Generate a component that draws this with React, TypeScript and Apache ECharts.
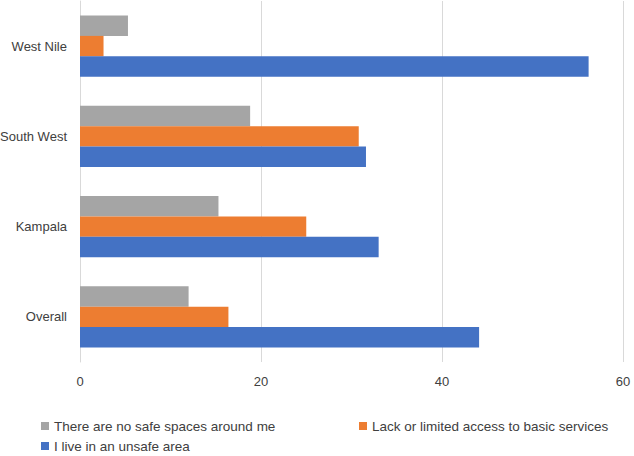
import React, { useEffect, useRef } from "react";
import * as echarts from "echarts";

const categories = ["Overall", "Kampala", "South West", "West Nile"];
const noSafeSpaces = [12.0, 15.3, 18.8, 5.3];
const lackAccess = [16.4, 25.0, 30.8, 2.6];
const unsafeArea = [44.1, 33.0, 31.6, 56.2];
const seriesNames = [
  "There are no safe spaces around me",
  "Lack or limited access to basic services",
  "I live in an unsafe area",
];
const xTicks = { min: 0, max: 60, interval: 20 };

const FONT = "Liberation Sans";
const TEXT = "#404040";

export default function App() {
  const ref = useRef<HTMLDivElement>(null);
  useEffect(() => {
    if (!ref.current) return;
    const chart = echarts.init(ref.current, null, { renderer: "svg" });
    const legendText = { fontFamily: FONT, fontSize: 13.5, color: TEXT };
    const legendBase = {
      orient: "horizontal",
      padding: 0,
      itemWidth: 8,
      itemHeight: 8,
      itemGap: 4,
      icon: "rect",
      textStyle: legendText,
      selectedMode: false,
    };
    chart.setOption({
      animation: false,
      backgroundColor: "#ffffff",
      textStyle: { fontFamily: FONT },
      grid: {
        left: 80,
        right: 11,
        top: 1,
        height: 361,
        containLabel: false,
        outerBoundsMode: "none",
      },
      legend: [
        { ...legendBase, data: [seriesNames[0]], left: 41, top: 419 },
        { ...legendBase, data: [seriesNames[1]], left: 359, top: 419 },
        { ...legendBase, data: [seriesNames[2]], left: 41, top: 439 },
      ],
      xAxis: {
        type: "value",
        min: xTicks.min,
        max: xTicks.max,
        interval: xTicks.interval,
        axisLine: { show: false },
        axisTick: { show: false },
        axisLabel: { fontFamily: FONT, fontSize: 13, color: TEXT, margin: 13 },
        splitLine: { show: true, lineStyle: { color: "#d9d9d9", width: 1 } },
      },
      yAxis: {
        type: "category",
        data: categories,
        axisLine: { show: true, lineStyle: { color: "#d9d9d9", width: 1 } },
        axisTick: { show: false },
        axisLabel: { fontFamily: FONT, fontSize: 13, color: TEXT, margin: 13 },
      },
      series: [
        {
          name: seriesNames[0],
          type: "bar",
          data: noSafeSpaces,
          itemStyle: { color: "#A5A5A5" },
          barGap: "0%",
          barCategoryGap: "32%",
        },
        {
          name: seriesNames[1],
          type: "bar",
          data: lackAccess,
          itemStyle: { color: "#ED7D31" },
          barGap: "0%",
          barCategoryGap: "32%",
        },
        {
          name: seriesNames[2],
          type: "bar",
          data: unsafeArea,
          itemStyle: { color: "#4472C4" },
          barGap: "0%",
          barCategoryGap: "32%",
        },
      ],
    });
    return () => chart.dispose();
  }, []);
  return <div ref={ref} style={{ width: 634, height: 456, position: "absolute", left: 0, top: 0 }} />;
}
